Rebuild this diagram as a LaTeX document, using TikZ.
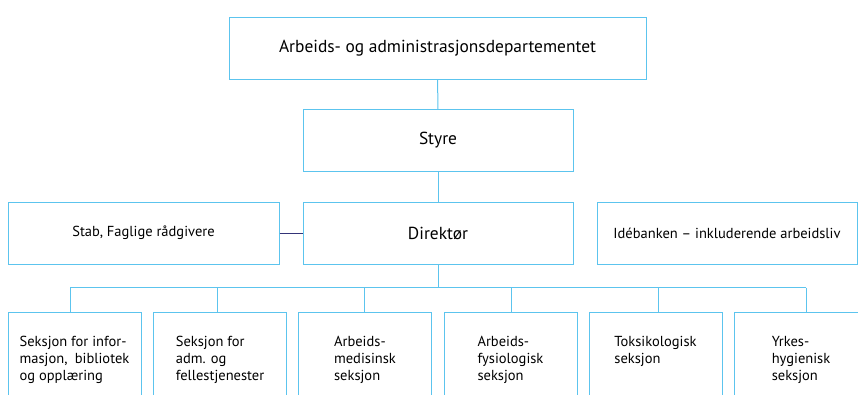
\documentclass[tikz,border=0pt]{standalone}
\usepackage{fontspec}
\setmainfont{PT Sans}
\definecolor{orgblue}{RGB}{92,196,238}
\definecolor{orgnavy}{RGB}{52,52,120}
\begin{document}
\begin{tikzpicture}[x=1pt,y=-1pt,line width=1pt,
        box/.style={draw=orgblue,inner sep=0pt,minimum height=62pt},
        big/.style={font=\fontsize{17.4}{20}\selectfont},
        small/.style={font=\fontsize{14.5}{17}\selectfont},
        sect/.style={draw=orgblue,inner sep=0pt,minimum width=133pt,minimum height=100pt,anchor=north},
        txt/.style={small,align=left,anchor=north,inner sep=0pt},
        link/.style={draw=orgblue}]
        \useasboundingbox (0,0) rectangle (858,394);
        \clip (0,0) rectangle (858,394);
        % top of the chart
        \node[box,big,minimum width=417pt] (dep) at (437.5,48) {Arbeids- og administrasjonsdepartementet};
        \node[box,big,minimum width=270pt] (sty) at (438,140.5) {Styre};
        \node[box,big,minimum width=270pt] (dir) at (438,233) {Direktør};
        \node[box,small,minimum width=271pt] (stab) at (143.5,233) {Stab, Faglige rådgivere};
        \node[box,small,minimum width=260pt] (ide) at (727,233) {Idébanken -- inkluderende arbeidsliv};
        % sections
        \node[sect] (s1) at (74.5,312) {};
        \node[sect] (s2) at (220,312) {};
        \node[sect] (s3) at (365,312) {};
        \node[sect] (s4) at (510.5,312) {};
        \node[sect] (s5) at (655.5,312) {};
        \node[sect] (s6) at (801,312) {};
        \node[txt] (t1) at (74.5,336) {Seksjon for infor-\\masjon,\enspace bibliotek\\og opplæring};
        \node[txt] (t2) at (220,336) {Seksjon for\\adm. og\\fellestjenester};
        \node[txt] (t3) at (365,336) {Arbeids-\\medisinsk\\seksjon};
        \node[txt] (t4) at (510.5,336) {Arbeids-\\fysiologisk\\seksjon};
        \node[txt] (t5) at (655.5,336) {Toksikologisk\\seksjon};
        \node[txt] (t6) at (801,336) {Yrkes-\\hygienisk\\seksjon};
        % lines
        \draw[link] (dep) -- (sty);
        \draw[link] (sty) -- (dir);
        \draw[orgnavy] (stab) -- (dir);
        \draw[link] (dir.south) -- ++(0,23) coordinate (bus);
        \draw[link] ([xshift=-4.5pt]s1.north |- bus) -- ([xshift=5pt]s6.north |- bus);
        \foreach \s/\d in {s1/-4.5,s2/-3,s3/-1,s4/0.5,s5/2.5,s6/5}
            \draw[link] ([xshift=\d pt]\s.north |- bus) -- ([xshift=\d pt]\s.north);
\end{tikzpicture}
\end{document}
